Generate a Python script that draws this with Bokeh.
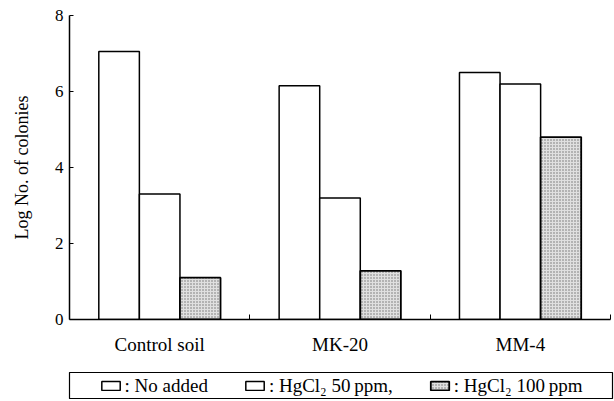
from bokeh.plotting import figure
from bokeh.layouts import column
from bokeh.models import ColumnDataSource, Range1d, FixedTicker, Legend, LegendItem
from bokeh.embed import file_html
from bokeh.resources import INLINE

# data
groups = ["Control soil", "MK-20", "MM-4"]
no_added = [7.05, 6.15, 6.5]
hgcl2_50 = [3.3, 3.2, 6.2]
hgcl2_100 = [1.1, 1.28, 4.8]
series_labels = [": No added", ": HgCl\u2082 50\u2009ppm,", ": HgCl\u2082 100\u2009ppm"]
y_ticks = [0, 2, 4, 6, 8]

FONT = "Liberation Serif"
bar_w = 0.225
centers = [i + 0.5 for i in range(len(groups))]

styles = [
    dict(fill_color="white", line_color="black", line_width=1.5),
    dict(fill_color="white", line_color="black", line_width=1.5),
    dict(fill_color="#e0e0e0", hatch_pattern=".", hatch_color="#707070", hatch_scale=3,
         hatch_weight=1, line_color="black", line_width=1.8),
]

p = figure(frame_width=541, frame_height=304, output_backend="svg", toolbar_location=None,
           x_range=Range1d(0, 3), y_range=Range1d(0, 8),
           min_border_left=69, min_border_right=4, min_border_top=15, min_border_bottom=53)
p.outline_line_color = None
p.grid.visible = False

src = ColumnDataSource(dict(
    x0=[c - bar_w for c in centers], x1=centers, x2=[c + bar_w for c in centers],
    a=no_added, b=hgcl2_50, c=hgcl2_100))

p.vbar(x="x0", top="a", width=bar_w, source=src, **styles[0])
p.vbar(x="x1", top="b", width=bar_w, source=src, **styles[1])
p.vbar(x="x2", top="c", width=bar_w, source=src, **styles[2])

xa = p.xaxis[0]
xa.ticker = FixedTicker(ticks=centers, minor_ticks=[1, 2, 3])
xa.major_label_overrides = {c: g for c, g in zip(centers, groups)}
xa.major_tick_line_color = None
xa.minor_tick_in = 5
xa.minor_tick_out = 0
xa.minor_tick_line_color = "black"
xa.axis_line_width = 1.5
xa.major_label_text_font = FONT
xa.major_label_text_font_size = "19px"
xa.major_label_text_color = "black"
xa.major_label_standoff = 8

ya = p.yaxis[0]
ya.ticker = FixedTicker(ticks=y_ticks, minor_ticks=[])
ya.major_tick_in = 4
ya.major_tick_out = 0
ya.axis_line_width = 1.5
ya.major_label_text_font = FONT
ya.major_label_text_font_size = "17px"
ya.major_label_text_color = "black"
ya.major_label_standoff = 6
ya.axis_label = "Log No. of colonies"
ya.axis_label_text_font = FONT
ya.axis_label_text_font_style = "normal"
ya.axis_label_text_font_size = "18px"
ya.axis_label_text_color = "black"
ya.axis_label_standoff = 20

# legend panel (boxed)
lg = figure(frame_width=543, frame_height=27, output_backend="svg", toolbar_location=None,
            x_range=Range1d(0, 1), y_range=Range1d(0, 1),
            x_axis_location=None, y_axis_location=None,
            min_border_left=67, min_border_right=4, min_border_top=0, min_border_bottom=0)
lg.grid.visible = False
lg.outline_line_color = "black"
lg.outline_line_width = 1.2
# swatch renderers kept outside the visible range; they only feed the legend
offscreen = ColumnDataSource(dict(x=[-10], top=[-10]))
items = []
for lab, st in zip(series_labels, styles):
    r = lg.vbar(x="x", top="top", width=1, source=offscreen, **st)
    items.append(LegendItem(label=lab, renderers=[r]))
legend = Legend(items=items, orientation="horizontal", location="center",
                border_line_color=None, background_fill_alpha=0,
                label_text_font=FONT, label_text_font_size="19px",
                label_text_color="black",
                glyph_width=23, glyph_height=11, label_standoff=3,
                spacing=35, padding=0, margin=0)
lg.add_layout(legend, "center")

layout = column(p, lg, spacing=0)
open("out.html", "w").write(file_html(layout, INLINE))
